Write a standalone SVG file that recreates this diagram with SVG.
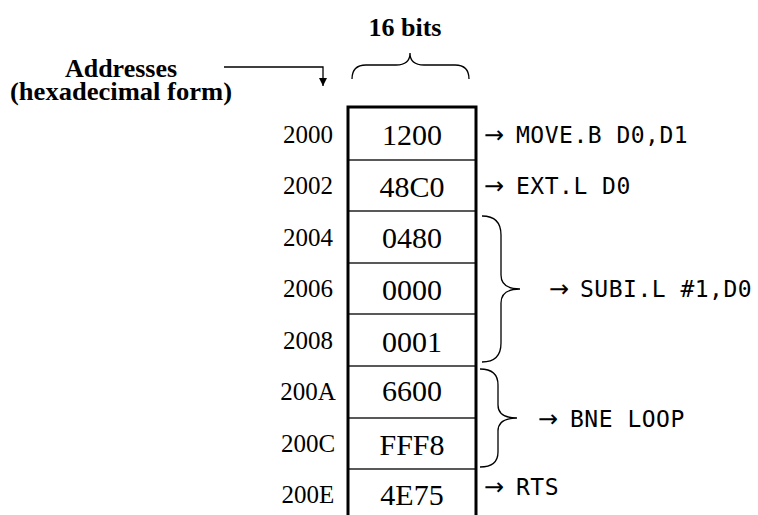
<svg xmlns="http://www.w3.org/2000/svg" width="758" height="515" viewBox="0 0 758 515">
<style>
.bg{fill:#fff}
.hdr{font-family:"Liberation Serif","Times New Roman",serif;font-weight:bold;font-size:25px;fill:#000}
.addr{font-family:"Liberation Serif","Times New Roman",serif;font-size:25px;fill:#000;text-anchor:middle}
.val{font-family:"Liberation Serif","Times New Roman",serif;font-size:30px;fill:#000;text-anchor:middle}
.code{font-family:"DejaVu Sans Mono","Liberation Mono",monospace;font-size:23px;letter-spacing:0.5px;fill:#000}
.arr{font-family:"DejaVu Sans","Liberation Sans",sans-serif;font-size:24px;letter-spacing:0}
.thick{stroke:#000;stroke-width:3;fill:none}
.thin{stroke:#222;stroke-width:1.5;fill:none}
.brace{stroke:#000;stroke-width:1.3;fill:none}
.conn{stroke:#000;stroke-width:1.3;fill:none}
</style>
<defs>
<marker id="ah" viewBox="0 0 10 10" refX="10" refY="5" markerWidth="9" markerHeight="8" markerUnits="userSpaceOnUse" orient="auto">
<path d="M0,0 L10,5 L0,10 Z" fill="#000"/>
</marker>
</defs>
<rect class="bg" x="0" y="0" width="758" height="515"/>

<g id="title-16bits">
<text class="hdr" x="405" y="36" text-anchor="middle" font-size="28" textLength="73" lengthAdjust="spacingAndGlyphs">16 bits</text>
<path class="brace" d="M352,79 Q352,65 366,65 L396,65 Q410,65 410,53 Q410,65 424,65 L455,65 Q469,65 469,79"/>
</g>

<g id="label-addresses">
<text class="hdr" x="121" y="77" text-anchor="middle" textLength="112" lengthAdjust="spacingAndGlyphs">Addresses</text>
<text class="hdr" x="121" y="100" text-anchor="middle" textLength="222" lengthAdjust="spacingAndGlyphs">(hexadecimal form)</text>
</g>

<g id="connectors">
<path class="conn" d="M224,67 L323,67 L323,86" marker-end="url(#ah)"/>
</g>

<g id="memory">
<line class="thin" x1="348" y1="160" x2="476" y2="160"/>
<line class="thin" x1="348" y1="211" x2="476" y2="211"/>
<line class="thin" x1="348" y1="263" x2="476" y2="263"/>
<line class="thin" x1="348" y1="314" x2="476" y2="314"/>
<line class="thin" x1="348" y1="366" x2="476" y2="366"/>
<line class="thin" x1="348" y1="418" x2="476" y2="418"/>
<line class="thin" x1="348" y1="469" x2="476" y2="469"/>
<path class="thick" d="M348,515 L348,107 L476,107 L476,515"/>
</g>

<g id="row-2000"><text class="addr" x="308" y="143">2000</text><text class="val" x="412" y="145">1200</text></g>
<g id="row-2002"><text class="addr" x="308" y="194">2002</text><text class="val" x="412" y="197">48C0</text></g>
<g id="row-2004"><text class="addr" x="308" y="246">2004</text><text class="val" x="412" y="248">0480</text></g>
<g id="row-2006"><text class="addr" x="308" y="297">2006</text><text class="val" x="412" y="300">0000</text></g>
<g id="row-2008"><text class="addr" x="308" y="349">2008</text><text class="val" x="412" y="352">0001</text></g>
<g id="row-200A"><text class="addr" x="308" y="400">200A</text><text class="val" x="412" y="401">6600</text></g>
<g id="row-200C"><text class="addr" x="308" y="452">200C</text><text class="val" x="412" y="455">FFF8</text></g>
<g id="row-200E"><text class="addr" x="308" y="503">200E</text><text class="val" x="412" y="505">4E75</text></g>

<g id="instr-move"><text class="code" x="484" y="143"><tspan class="arr">→</tspan><tspan x="516">MOVE.B D0,D1</tspan></text></g>
<g id="instr-ext"><text class="code" x="484" y="194"><tspan class="arr">→</tspan><tspan x="516">EXT.L D0</tspan></text></g>
<g id="instr-subi">
<path class="brace" d="M482,216 Q501,216 501,235 L501,275 Q501,289 520,289 Q501,289 501,303 L501,343 Q501,362 482,362"/>
<text class="code" x="549" y="297"><tspan class="arr">→</tspan><tspan x="580">SUBI.L #1,D0</tspan></text>
</g>
<g id="instr-bne">
<path class="brace" d="M480,369 Q498,369 498,385 L498,405 Q498,418 517,418 Q498,418 498,431 L498,452 Q498,467 480,467"/>
<text class="code" x="538" y="427"><tspan class="arr">→</tspan><tspan x="570">BNE LOOP</tspan></text>
</g>
<g id="instr-rts"><text class="code" x="484" y="495"><tspan class="arr">→</tspan><tspan x="516">RTS</tspan></text></g>
</svg>
